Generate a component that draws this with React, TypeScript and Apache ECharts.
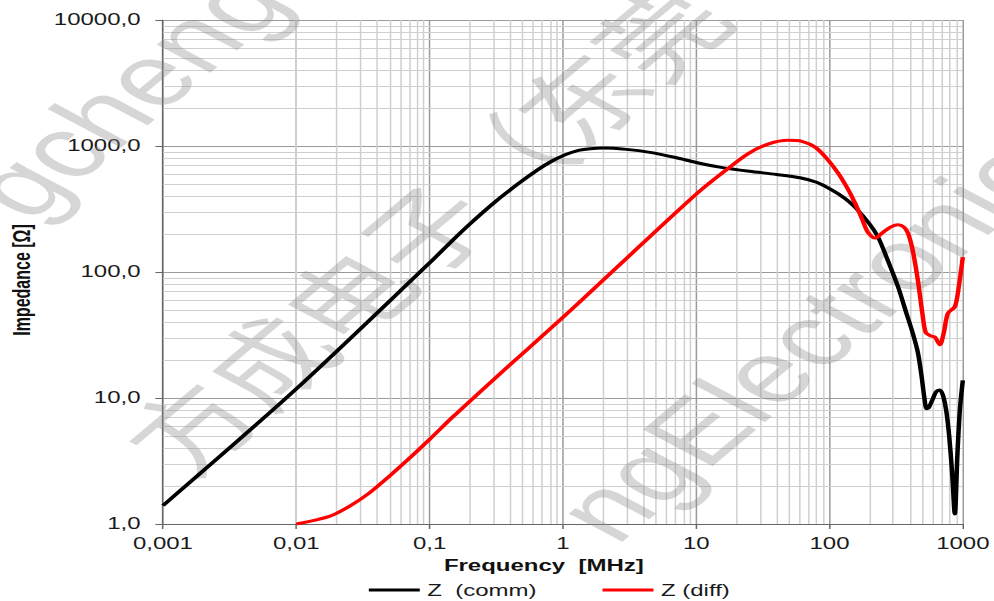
import React, { useEffect, useRef } from "react";
import * as echarts from "echarts";

// ---- data ----
const xTickLabels = ["0,001", "0,01", "0,1", "1", "10", "100", "1000"];
const yTickLabels = ["1,0", "10,0", "100,0", "1000,0", "10000,0"];
const legendNames = ["Z  (comm)", "Z (diff)"];

const commFreq = [
  0.001, 0.01, 0.1, 0.15, 0.2, 0.3, 0.47, 0.65, 0.83, 1.05, 1.25, 1.6, 2.0, 3.0, 4.5, 7, 10, 15,
  25, 40, 60, 80, 103, 130, 155, 200, 231, 270, 327, 380, 420, 460, 490, 515, 535, 555, 590, 630,
  673, 710, 750, 790, 830, 871, 910, 950, 1000,
];
const commZ = [
  1.4, 11.8, 118, 180, 240, 350, 508, 650, 760, 855, 912, 950, 964, 940, 890, 810, 740, 680,
  630, 595, 560, 515, 450, 385, 328, 240, 190, 128, 76, 46, 33, 23, 15, 10, 8.2, 8.4, 9.6, 11.2,
  11.6, 10.5, 8, 5, 2.6, 1.2, 3.5, 8, 13.8,
];

const diffFreq = [
  0.01, 0.0177, 0.025, 0.035, 0.05, 0.07, 0.1, 0.15, 0.235, 0.4, 0.746, 1.39, 3.71, 10.4, 16.6,
  24.6, 35, 49, 62, 78, 95, 116, 135, 155, 175, 195, 219, 250, 289, 327, 360, 387, 420, 460, 500,
  528, 580, 617, 673, 720, 773, 871, 930, 1000,
];
const diffZ = [
  1.0, 1.15, 1.38, 1.75, 2.4, 3.3, 4.7, 7.1, 11, 18.3, 33, 60, 158, 430, 640,
  870, 1040, 1110, 1090, 980, 800, 610, 470, 355, 265, 205, 186, 205, 228, 237, 228, 204, 150, 86, 45,
  33, 31, 30.5, 26.5, 33, 47, 53, 75, 131,
];

const W = 663;
const H = 601;
const SX = 994 / W;

export default function App() {
  const ref = useRef<HTMLDivElement>(null);

  useEffect(() => {
    const chart = echarts.init(ref.current!, undefined, { renderer: "svg" });
    const font = '"Liberation Sans", Arial, Helvetica, sans-serif';

    const minorX: any[] = [];
    for (let e = -3; e < 3; e++) for (let k = 2; k < 10; k++) minorX.push({ xAxis: k * Math.pow(10, e) });
    const minorY: any[] = [];
    for (let e = 0; e < 4; e++) for (let k = 2; k < 10; k++) minorY.push({ yAxis: k * Math.pow(10, e) });

    const rot = (51.5 * Math.PI) / 180;
    const wm = { fill: "rgba(140,140,140,0.36)", fontSize: 86, fontFamily: font };

    chart.setOption({
      animation: false,
      backgroundColor: "#ffffff",
      grid: { left: 108.7, right: 19.3, top: 20, bottom: 77, containLabel: false },
      xAxis: {
        type: "log",
        logBase: 10,
        min: 0.001,
        max: 1000,
        interval: 1,
        axisLine: { show: true, lineStyle: { color: "#666", width: 1 } },
        axisTick: { show: true, length: 5, lineStyle: { color: "#666" } },
        axisLabel: {
          margin: 12,
          fontSize: 16,
          fontFamily: font,
          color: "#1a1a1a",
          formatter: (v: number) => xTickLabels[Math.round(Math.log10(v)) + 3],
        },
        splitLine: { show: true, lineStyle: { color: "#9a9a9a", width: 1 } },
      },
      yAxis: {
        type: "log",
        logBase: 10,
        min: 1,
        max: 10000,
        interval: 1,
        axisLine: { show: true, lineStyle: { color: "#666", width: 1 } },
        axisTick: { show: true, length: 5, lineStyle: { color: "#666" } },
        axisLabel: {
          margin: 15,
          fontSize: 16,
          fontFamily: font,
          color: "#1a1a1a",
          formatter: (v: number) => yTickLabels[Math.round(Math.log10(v))],
        },
        splitLine: { show: true, lineStyle: { color: "#9a9a9a", width: 1 } },
      },
      legend: {
        data: legendNames.map((n) => ({ name: n, icon: "rect" })),
        left: 241,
        top: 577,
        itemWidth: 34,
        itemHeight: 3,
        itemGap: 44,
        textStyle: { fontSize: 16, fontFamily: font, color: "#1a1a1a" },
      },
      graphic: [
        {
          type: "text",
          x: -3,
          y: 205,
          rotation: rot,
          z: 2,
          silent: true,
          style: { ...wm, text: "gcheng", textAlign: "left", textVerticalAlign: "middle" },
        },
        {
          type: "text",
          x: 98,
          y: 458,
          rotation: rot,
          z: 2,
          silent: true,
          style: {
            ...wm,
            fontSize: 84,
            fontFamily: '"Noto Sans CJK SC", sans-serif',
            text: "方成电子（东莞",
            textAlign: "left",
            textVerticalAlign: "middle",
          },
        },
        {
          type: "text",
          x: 388,
          y: 528,
          rotation: rot,
          z: 2,
          silent: true,
          style: { ...wm, text: "ngElectronics", textAlign: "left", textVerticalAlign: "middle" },
        },
        {
          type: "text",
          x: 362.7,
          y: 566,
          z: 10,
          style: {
            text: "Frequency  [MHz]",
            fontSize: 16,
            fontWeight: "bold",
            fontFamily: font,
            fill: "#111",
            textAlign: "center",
            textVerticalAlign: "middle",
          },
        },
        {
          type: "text",
          x: 14.7,
          y: 280,
          rotation: Math.PI / 2,
          z: 10,
          style: {
            text: "Impedance [Ω]",
            fontSize: 16,
            fontWeight: "bold",
            fontFamily: font,
            fill: "#111",
            textAlign: "center",
            textVerticalAlign: "middle",
          },
        },
      ],
      series: [
        {
          name: "minor-grid",
          type: "line",
          data: [[1, 1]],
          showSymbol: false,
          symbol: "none",
          lineStyle: { width: 0, opacity: 0 },
          silent: true,
          z: 1,
          markLine: {
            silent: true,
            z: 1,
            symbol: ["none", "none"],
            label: { show: false },
            lineStyle: { color: "#cfcfcf", width: 1, type: "solid" },
            emphasis: { disabled: true },
            data: [...minorX, ...minorY],
          },
        },
        {
          name: legendNames[0],
          type: "line",
          data: commFreq.map((f, i) => [f, commZ[i]]),
          symbol: "none",
          smooth: 0.3,
          z: 3,
          lineStyle: { color: "#000000", width: 3 },
          itemStyle: { color: "#000000" },
        },
        {
          name: legendNames[1],
          type: "line",
          data: diffFreq.map((f, i) => [f, diffZ[i]]),
          symbol: "none",
          smooth: 0.3,
          z: 3,
          lineStyle: { color: "#ff0000", width: 3 },
          itemStyle: { color: "#ff0000" },
        },
      ],
    });

    return () => chart.dispose();
  }, []);

  return (
    <div
      style={{
        position: "fixed",
        left: 0,
        top: 0,
        width: 994,
        height: 601,
        overflow: "hidden",
        background: "#fff",
      }}
    >
      <div
        ref={ref}
        style={{ width: W, height: H, transform: `scaleX(${SX})`, transformOrigin: "0 0" }}
      />
    </div>
  );
}
